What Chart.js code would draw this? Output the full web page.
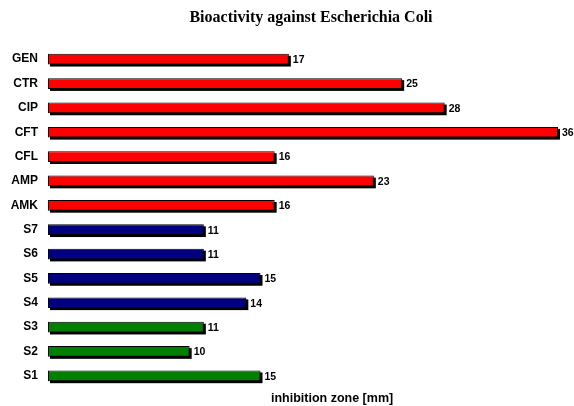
<!DOCTYPE html>
<html>
<head>
<meta charset="utf-8">
<script src="https://cdn.jsdelivr.net/npm/chart.js@4/dist/chart.umd.min.js"></script>
<style>
  html, body { margin: 0; padding: 0; background: #fff; }
  #wrap { width: 574px; height: 406px; }
</style>
</head>
<body>
<div id="wrap"><canvas id="chart"></canvas></div>
<script>
const categories = ['GEN', 'CTR', 'CIP', 'CFT', 'CFL', 'AMP', 'AMK', 'S7', 'S6', 'S5', 'S4', 'S3', 'S2', 'S1'];
const inhibition = [17, 25, 28, 36, 16, 23, 16, 11, 11, 15, 14, 11, 10, 15];
const groups = ['ref', 'ref', 'ref', 'ref', 'ref', 'ref', 'ref', 'b', 'b', 'b', 'b', 'g', 'g', 'g'];
const groupColors = { ref: '#ff0000', b: '#000080', g: '#008000' };

const chartTitle = 'Bioactivity against Escherichia Coli';
const axisTitle = 'inhibition zone [mm]';

// drop shadow under the bars (the bar element clips its own drawing, so paint it first)
const shadowPlugin = {
    id: 'barShadow',
    beforeDatasetDraw(chart) {
        const ctx = chart.ctx;
        ctx.save();
        ctx.fillStyle = '#000';
        chart.getDatasetMeta(0).data.forEach(bar => {
            const p = bar.getProps(['x', 'y', 'base', 'height'], true);
            ctx.fillRect(p.base + 2, p.y - p.height / 2 + 2, p.x - p.base, p.height);
        });
        ctx.restore();
    }
};

// value labels, titles
const textPlugin = {
    id: 'texts',
    afterDraw(chart) {
        const ctx = chart.ctx;
        const area = chart.chartArea;
        ctx.save();
        ctx.fillStyle = '#000';
        ctx.font = 'bold 10.5px "Liberation Sans", Arial, sans-serif';
        ctx.textAlign = 'left';
        ctx.textBaseline = 'middle';
        chart.getDatasetMeta(0).data.forEach((bar, i) => {
            ctx.fillText(inhibition[i], bar.x + 4, bar.y + 1);
        });

        ctx.font = 'bold 16px "Liberation Serif", "Times New Roman", serif';
        ctx.textAlign = 'center';
        ctx.fillText(chartTitle, 311, 18);

        ctx.font = 'bold 12.5px "Liberation Sans", Arial, sans-serif';
        ctx.fillText(axisTitle, area.left + (area.right - area.left) * 0.557, 399);
        ctx.restore();
    }
};

new Chart(document.getElementById('chart'), {
    type: 'bar',
    data: {
        labels: categories,
        datasets: [{
            data: inhibition,
            backgroundColor: groups.map(g => groupColors[g]),
            borderColor: '#000',
            borderWidth: 1,
            borderSkipped: false,
            categoryPercentage: 1,
            barPercentage: 0.44
        }]
    },
    options: {
        indexAxis: 'y',
        responsive: true,
        maintainAspectRatio: false,
        animation: false,
        layout: { padding: { top: 47, right: 16, bottom: 18, left: 0 } },
        plugins: {
            legend: { display: false },
            tooltip: { enabled: false },
            title: { display: false }
        },
        scales: {
            x: {
                display: false,
                min: 0,
                max: 36
            },
            y: {
                grid: { display: false, drawTicks: false },
                border: { display: false },
                ticks: {
                    color: '#000',
                    padding: 10,
                    font: { family: '"Liberation Sans", Arial, sans-serif', size: 12, weight: 'bold' }
                },
                afterFit(scale) { scale.width = 48; }
            }
        }
    },
    plugins: [shadowPlugin, textPlugin]
});
</script>
</body>
</html>
